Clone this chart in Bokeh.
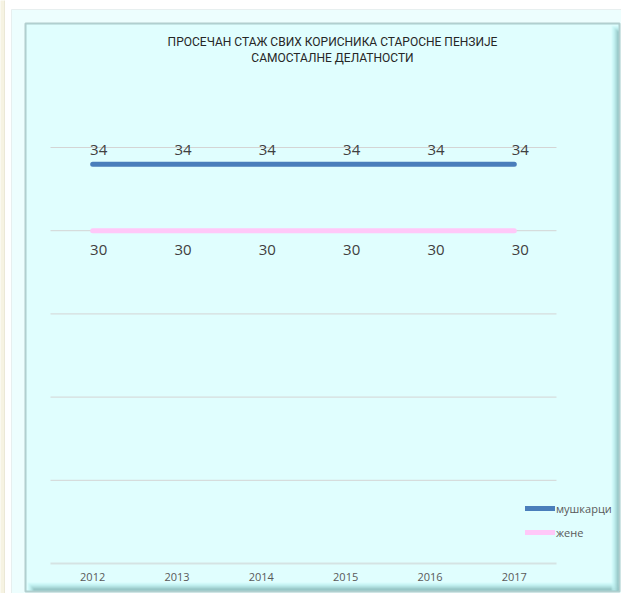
from bokeh.plotting import figure
from bokeh.models import Range1d, Label, BoxAnnotation, Legend, LegendItem, FixedTicker
from bokeh.core.properties import value
from bokeh.embed import file_html
from bokeh.resources import INLINE

# ---- data ----
years = ["2012", "2013", "2014", "2015", "2016", "2017"]
muskarci = [34, 34, 34, 34, 34, 34]
zene = [30, 30, 30, 30, 30, 30]
series_names = ["мушкарци", "жене"]
title_lines = ["ПРОСЕЧАН СТАЖ СВИХ КОРИСНИКА СТАРОСНЕ ПЕНЗИЈЕ",
               "САМОСТАЛНЕ ДЕЛАТНОСТИ"]
y_ticks = [10, 15, 20, 25, 30, 35]

idx = list(range(len(years)))

BG = "#CCFFFF"
OUTER = "#D2FDFD"
W, H = 621, 593
FONT = "Open Sans"

p = figure(width=W, height=H, x_range=Range1d(-1.093, 6.271),
           y_range=Range1d(8.197, 43.834),
           output_backend="svg", toolbar_location=None,
           min_border_left=0, min_border_right=0,
           min_border_top=0, min_border_bottom=0)
p.background_fill_color = "white"
p.border_fill_color = "white"
p.outline_line_color = None


def box(l, r, t, b, fill, line=None, lw=1):
    # l, r, t, b given in picture pixels from top-left
    p.add_layout(BoxAnnotation(left=l, right=r, top=H - t, bottom=H - b,
                               left_units="screen", right_units="screen",
                               top_units="screen", bottom_units="screen",
                               fill_color=fill, line_color=line, line_width=lw,
                               level="underlay"))


# ---- frame decoration ----
box(-5, 4, -5, H + 10, "#E8E0B6", "#C9C09A", 1)       # beige strip
box(11, W + 20, 9, H + 20, OUTER, "#C5CECE", 1)       # outer box
box(25, 619, 23, 591, BG, "#86AAAA", 2)               # inner panel
bevel_cols = ["#C8FAFA", "#C0F2F2", "#B6E8E8", "#ABDDDD", "#9FD0D0", "#92C3C3",
              "#86B5B5"]
for i, c in enumerate(bevel_cols):
    box(27 + i, 618, 582 + i, 590, c)                   # bottom bevel
for i, c in enumerate(bevel_cols):
    box(611 + i, 618, 25 + i, 590, c)                   # right bevel
box(25, 619, 23, 591, None, "#7E9E9E", 2)             # crisp edge

# ---- axes / grid ----
p.yaxis.visible = False
p.xgrid.visible = False
p.ygrid.visible = False
p.xaxis.ticker = FixedTicker(ticks=idx)
p.xaxis.major_label_overrides = {i: y for i, y in zip(idx, years)}
p.xaxis.axis_line_color = None
p.xaxis.major_tick_line_color = None
p.xaxis.minor_tick_line_color = None
p.xaxis.major_tick_out = 0
p.xaxis.major_tick_in = 0
p.xaxis.major_label_text_font = FONT
p.xaxis.major_label_text_font_size = "11px"
p.xaxis.major_label_text_color = "#595959"
p.xaxis.major_label_standoff = -21

x0 = [idx[0] - 0.5] * len(y_ticks)
x1 = [idx[-1] + 0.5] * len(y_ticks)
p.segment(x0=x0[1:], x1=x1[1:], y0=y_ticks[1:], y1=y_ticks[1:],
          line_color="#D4D4D4", line_width=1)
p.segment(x0=x0[:1], x1=x1[:1], y0=y_ticks[:1], y1=y_ticks[:1],
          line_color="#D5E3E3", line_width=2)

# ---- series ----
r1 = p.line(idx, muskarci, line_width=5, line_color="#4A7EBB", line_cap="round")
r2 = p.line(idx, zene, line_width=5, line_color="#FFC8F8", line_cap="round")

p.text(x=idx, y=muskarci, text=[str(v) for v in muskarci],
       x_offset=6, y_offset=-14, text_align="center", text_baseline="middle",
       text_font=value(FONT), text_font_size="15px", text_color="#404040")
p.text(x=idx, y=zene, text=[str(v) for v in zene],
       x_offset=6, y_offset=19, text_align="center", text_baseline="middle",
       text_font=value(FONT), text_font_size="15px", text_color="#404040")

legend = Legend(items=[LegendItem(label=series_names[0], renderers=[r1]),
                       LegendItem(label=series_names[1], renderers=[r2])],
                location=(525, H - 542), padding=0, margin=0, spacing=4,
                glyph_width=30, glyph_height=20, label_height=20,
                label_standoff=1, border_line_color=None,
                background_fill_alpha=0,
                label_text_font=FONT, label_text_font_size="11px",
                label_text_color="#595959")
p.add_layout(legend, "center")

# ---- title ----
for i, t in enumerate(title_lines):
    p.add_layout(Label(x=332, y=H - 41 - i * 16, x_units="screen", y_units="screen",
                       text=t, text_align="center", text_baseline="middle",
                       text_font="Roboto", text_font_size="12px",
                       text_color="#262626"))

open("out.html", "w").write(file_html(p, INLINE))
